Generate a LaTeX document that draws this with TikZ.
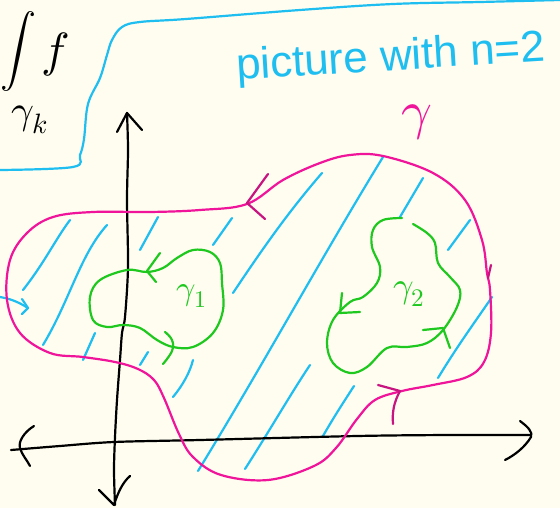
\documentclass[tikz,border=0pt]{standalone}
\usepackage{fontspec}
\usepackage{unicode-math}
\setmathfont{Latin Modern Math}
\newfontfamily\handsans{Liberation Sans}
\definecolor{paper}{RGB}{254,253,240}
\definecolor{skyc}{RGB}{30,190,240}
\definecolor{pinkc}{RGB}{240,20,155}
\definecolor{darkpink}{RGB}{200,20,128}
\definecolor{greenc}{RGB}{30,200,30}
\begin{document}
\begin{tikzpicture}[x=1pt,y=-1pt,
  ink/.style={line width=2.2pt,line cap=round,line join=round},
  axisline/.style={ink,black},
  hatch/.style={ink,skyc},
  gammaline/.style={ink,pinkc},
  gammatip/.style={ink,darkpink},
  loopline/.style={ink,greenc}]
\useasboundingbox (0,0) rectangle (560,508);
\fill[paper] (0,0) rectangle (560,508);

% cyan frame
\draw[hatch] plot[smooth,tension=0.6] coordinates {(0,170) (73,167) (80,155) (84,139) (88,104) (100,78) (107,55) (112,40) (122,27) (140,22) (186,19) (300,10) (393,4) (480,2) (560,0)};

% integral label
\node[inner sep=0] (intsign) at (18,52) {\fontsize{36}{36}\selectfont$\displaystyle\int$};
\node[inner sep=0] (fsym) at (55,55) {\fontsize{48}{48}\selectfont$f$};
\node[inner sep=0] (gk) at (30,120) {\fontsize{40}{40}\selectfont$\gamma_k$};

% title
\node[inner sep=0,anchor=base west,rotate=3.5,text=skyc] (title) at (237,80) {\fontsize{44}{44}\selectfont\handsans picture with n=2};
\node[inner sep=0,text=pinkc] (gname) at (417,122) {\fontsize{54}{54}\selectfont$\gamma$};

% hatching
\draw[hatch] (23,290) .. controls (45,262) and (55,240) .. (70,220);
\draw[hatch] (43,345) .. controls (70,300) and (80,255) .. (107,225);
\draw[hatch] (83,360) -- (95,333);
\draw[hatch] (140,250) -- (158,217);
\draw[hatch] (213,245) -- (232,218);
\draw[hatch] (233,293) .. controls (265,245) and (290,210) .. (322,173);
\draw[hatch] (198,471) .. controls (260,370) and (320,260) .. (383,157);
\draw[hatch] (400,217) -- (423,178);
\draw[hatch] (448,250) -- (470,220);
\draw[hatch] (438,378) .. controls (458,345) and (475,322) .. (492,297);
\draw[hatch] (140,365) -- (148,352);
\draw[hatch] (173,397) .. controls (183,385) and (190,372) .. (193,360);
\draw[hatch] (245,469) .. controls (270,430) and (290,395) .. (310,365);
\draw[hatch] (323,436) .. controls (335,415) and (345,400) .. (354,386);
% entering arrow
\coordinate (ain) at (0,297);
\coordinate (atip) at (28,308);
\draw[hatch] (ain) .. controls (12,299) and (20,303) .. (atip);
\draw[hatch] (22,299) -- (atip) -- (22,314);

% axes
\draw[axisline] plot[smooth,tension=0.5] coordinates {(11,450) (60,446) (114,442) (200,440) (357,436) (450,435) (531,435)};
\draw[axisline] (34,426) .. controls (24,432) and (18,442) .. (20,448) .. controls (22,455) and (27,460) .. (30,466);
\draw[axisline] (520,421) .. controls (528,427) and (533,432) .. (531,437) .. controls (525,447) and (515,455) .. (505,460);
\draw[axisline] plot[smooth,tension=0.5] coordinates {(127,113) (128,150) (127,200) (128,267) (125,317) (122,333) (120,360) (117,400) (115,437) (114,470) (115,505)};
\draw[axisline] (117,132) -- (127,113) -- (142,130);
\draw[axisline] (99,490) -- (114,505) .. controls (118,492) and (123,482) .. (130,476);

% gamma curve
\draw[gammaline] plot[smooth cycle,tension=0.6] coordinates {(53,217) (93,212) (150,212) (200,210) (247,204) (283,180) (320,163) (350,155) (383,156) (433,173) (465,200) (482,240) (487,273) (490,290) (491,333) (484,362) (467,377) (433,385) (402,391) (375,400) (357,419) (336,448) (314,466) (268,480) (221,475) (193,457) (179,434) (164,398) (154,380) (138,369) (115,362) (83,357) (50,353) (20,333) (7,300) (10,260) (27,233)};
\draw[gammatip] (268,174) -- (247,203) -- (265,219);
\draw[gammatip] (378,385) -- (400,391) .. controls (394,402) and (392,412) .. (393,424);
\draw[gammatip] (491,265) -- (488,278);

% gamma_1
\draw[loopline] plot[smooth cycle,tension=0.6] coordinates {(147,272) (127,270) (100,280) (90,297) (93,320) (107,327) (123,325) (140,328) (157,340) (173,347) (193,347) (213,333) (223,310) (222,283) (220,263) (210,252) (193,250) (177,258) (163,268)};
\draw[loopline] (160,253) -- (147,271) -- (156,282);
\draw[loopline] plot[smooth,tension=0.7] coordinates {(165,332) (172,340) (172,351) (163,364)};
\node[inner sep=0,text=greenc] (g1) at (192,296) {\fontsize{34}{34}\selectfont$\gamma_1$};

% gamma_2
\draw[loopline] plot[smooth,tension=0.6] coordinates {(402,218) (383,220) (373,230) (372,247) (380,267) (377,283) (363,297) (350,302) (333,320) (327,343) (333,363) (350,373) (367,367) (387,348) (407,347) (427,343) (443,330) (457,307) (460,290) (450,277) (438,263) (435,243) (427,233) (413,224)};
\draw[loopline] (342,293) -- (340,313) -- (360,312);
\draw[loopline] (423,330) -- (443,328) -- (450,348);
\node[inner sep=0,text=greenc] (g2) at (409,294) {\fontsize{36}{36}\selectfont$\gamma_2$};
\end{tikzpicture}
\end{document}
